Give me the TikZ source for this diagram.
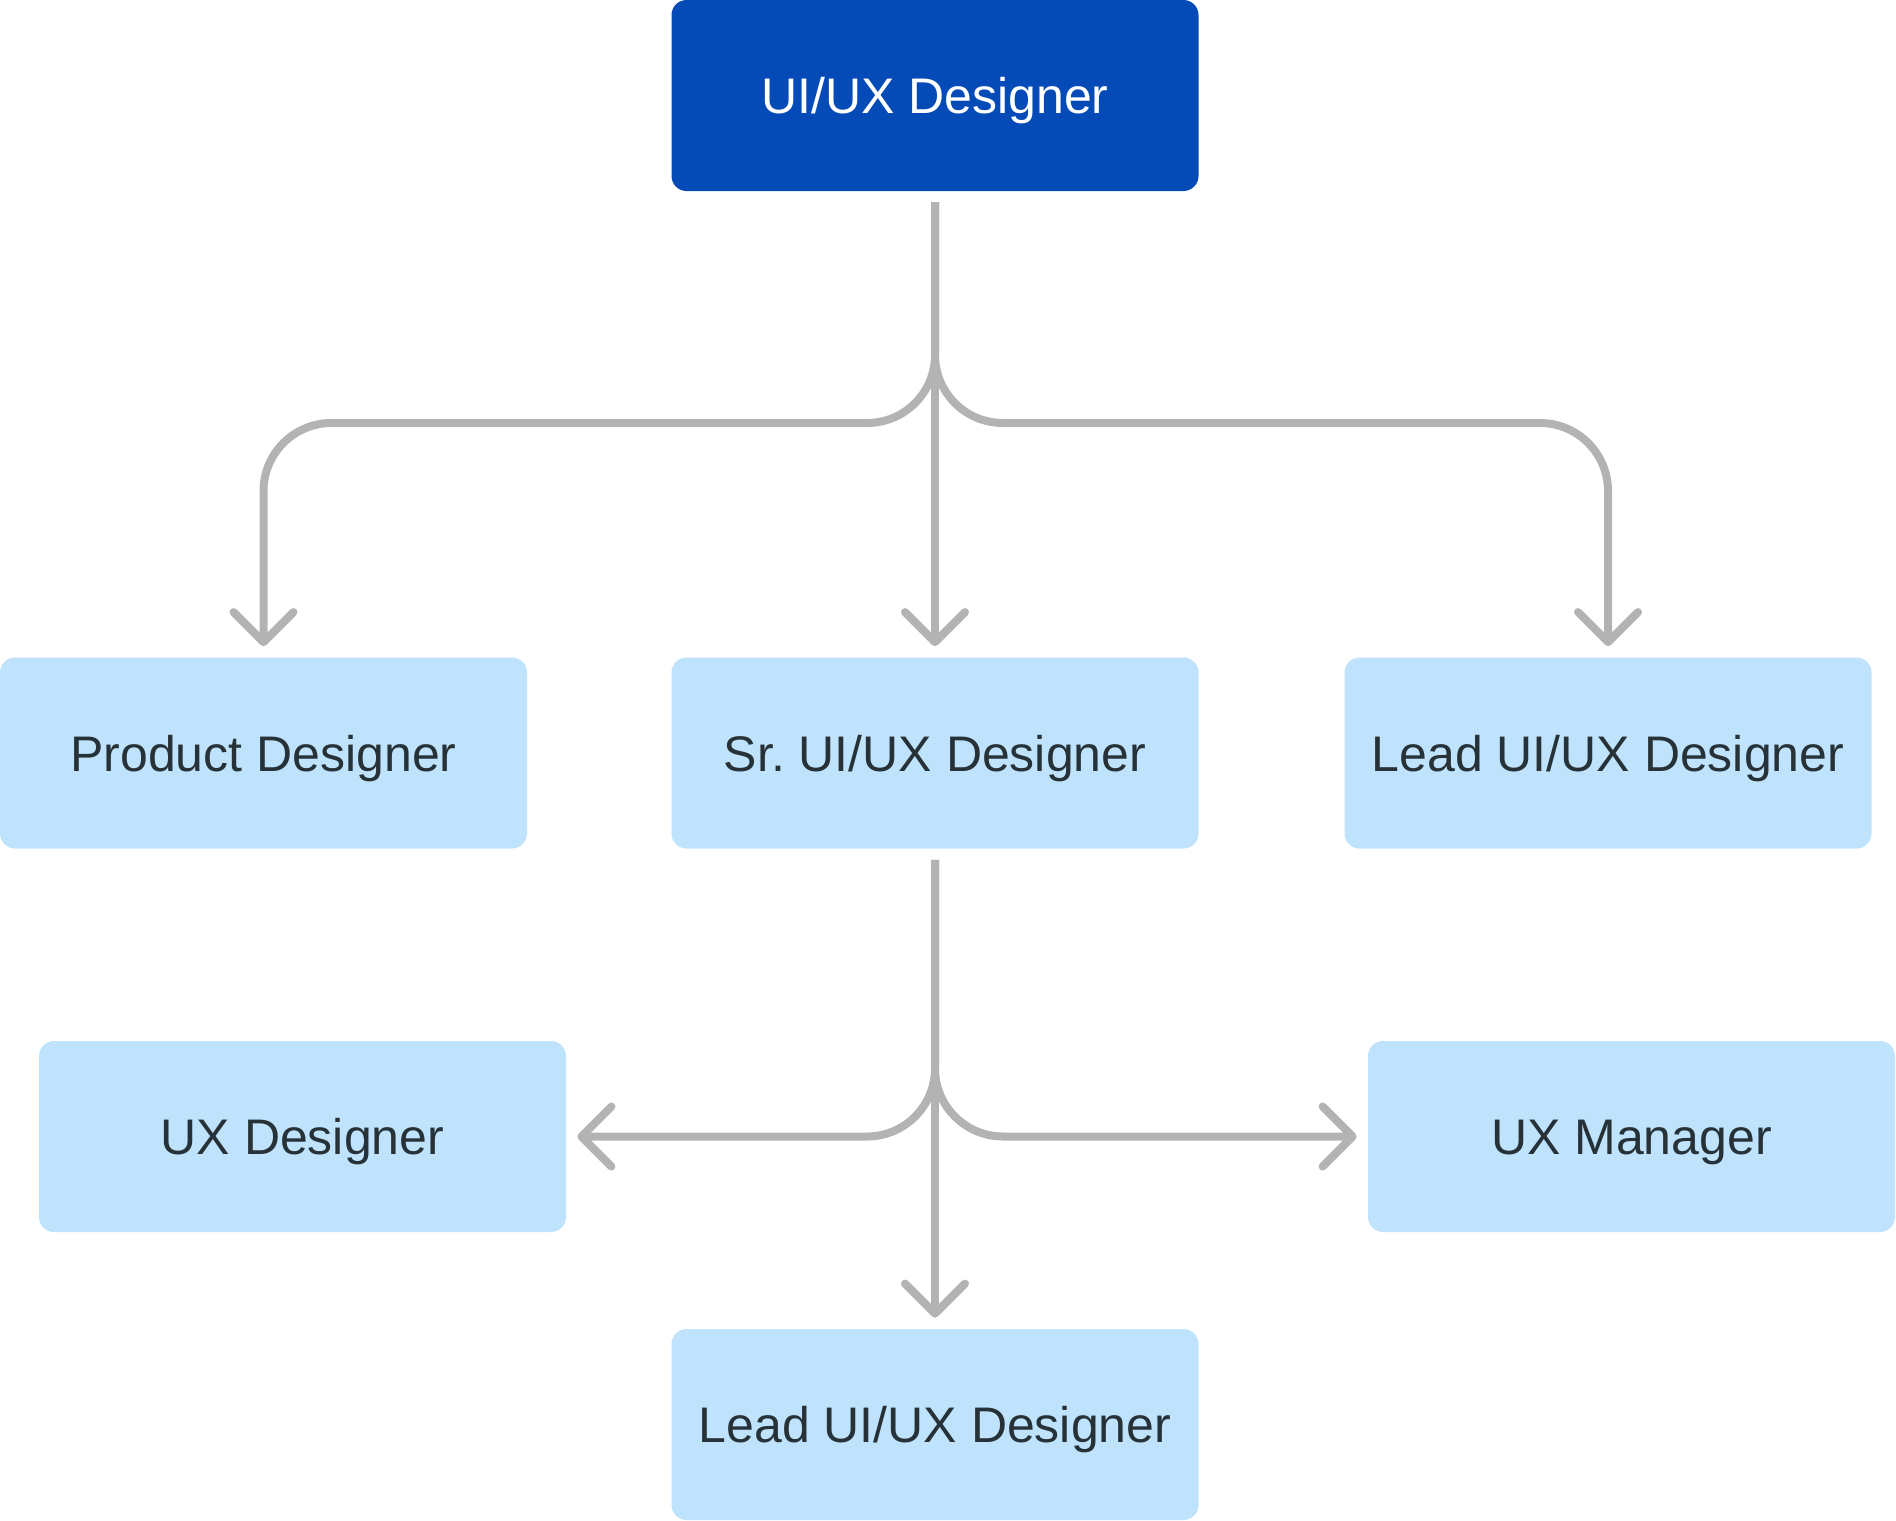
\documentclass[tikz,border=0pt]{standalone}
\usepackage{fontspec}
\setmainfont{Liberation Sans}
\usetikzlibrary{arrows.meta}

\definecolor{topblue}{HTML}{044BB8}
\definecolor{boxblue}{HTML}{BFE3FC}
\definecolor{linkgray}{HTML}{B3B3B3}
\definecolor{textdark}{HTML}{263238}

\begin{document}
\begin{tikzpicture}[x=0.5pt, y=-0.5pt,
    role/.style={rectangle, rounded corners=7.5pt, fill=boxblue, text=textdark,
        minimum width=263.5pt, minimum height=95.5pt, inner sep=0pt,
        text height=18pt, text depth=0pt,
        font=\fontsize{25}{30}\selectfont},
    head/.style={role, fill=topblue, text=white},
    link/.style={draw=linkgray, line width=4pt, rounded corners=34pt,
        shorten <=5.5pt, shorten >=5.5pt,
        -{Straight Barb[length=15pt, width=30pt, round]}}]
    \useasboundingbox (0,0) rectangle (1896,1521);

    \node[head] (top) at (935,95.5) {UI/UX Designer};
    \node[role] (prod) at (263.5,753) {Product Designer};
    \node[role] (sr) at (935,753) {Sr.\ UI/UX Designer};
    \node[role] (lead) at (1608,753) {Lead UI/UX Designer};
    \node[role] (uxd) at (302.5,1136.5) {UX Designer};
    \node[role] (uxm) at (1631.5,1136.5) {UX Manager};
    \node[role] (lead2) at (935,1424.5) {Lead UI/UX Designer};

    \coordinate (j1) at (935,423);
    \coordinate (j2) at (935,1136.5);

    \draw[link] (top) -- (sr);
    \draw[link] (top.south) -- (j1) -| (prod.north);
    \draw[link] (top.south) -- (j1) -| (lead.north);
    \draw[link] (sr) -- (lead2);
    \draw[link] (sr.south) -- (j2) -- (uxd.east);
    \draw[link] (sr.south) -- (j2) -- (uxm.west);
\end{tikzpicture}
\end{document}
